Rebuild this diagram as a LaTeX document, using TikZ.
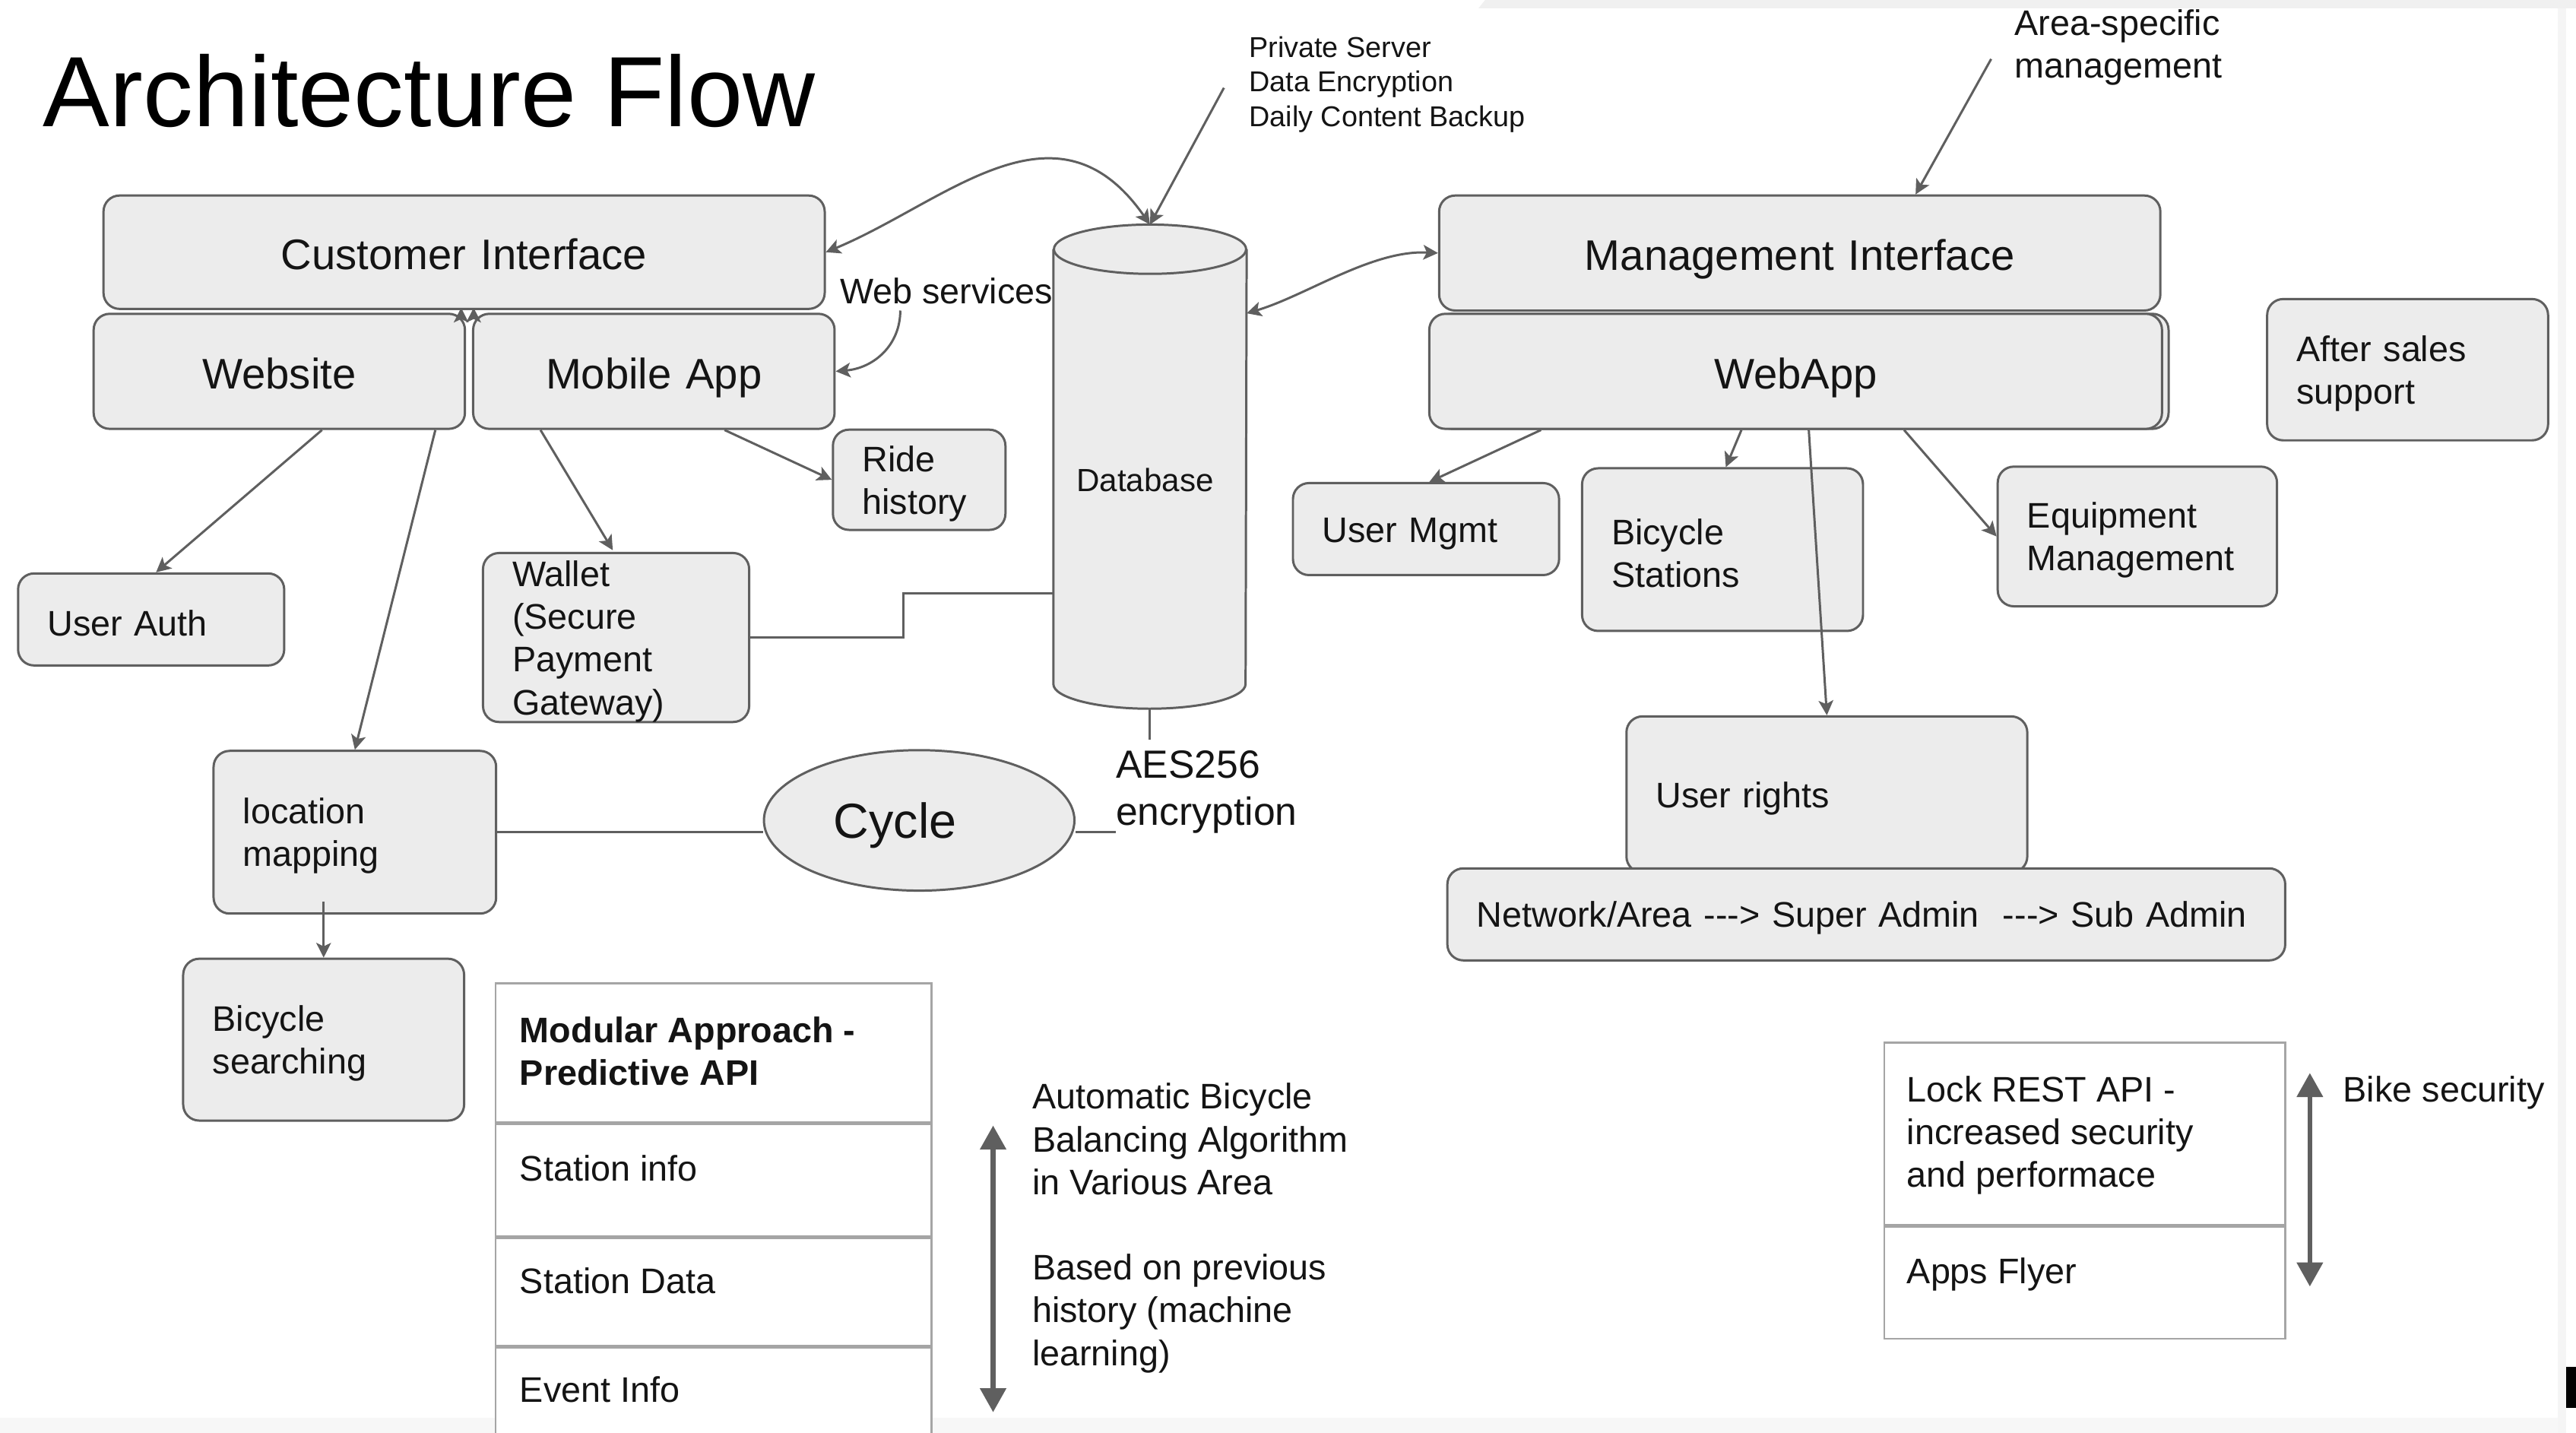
\documentclass[tikz,border=0pt]{standalone}
\usepackage{fontspec}
\setmainfont{Liberation Sans}
\usetikzlibrary{arrows.meta,shapes.geometric}
\definecolor{boxc}{RGB}{236,236,236}
\definecolor{linec}{RGB}{95,95,95}
\definecolor{txtc}{RGB}{20,20,20}
\definecolor{tabc}{RGB}{165,165,165}
\newcommand{\hy}{\mbox{-}}

\begin{document}
\begin{tikzpicture}[x=0.615pt, y=-0.615pt,
	box/.style 2 args={draw=linec, fill=boxc, line width=0.85pt, rounded corners=6pt, text=txtc,
		minimum width=#1*0.615pt, minimum height=#2*0.615pt, text width=#1*0.615pt-22pt, text height=12.5pt,
		inner xsep=11pt, inner ysep=0pt, align=left, font=\fontsize{13.3}{16}\selectfont},
	big/.style={align=center, text height=13pt, text depth=0pt, font=\fontsize{16}{19}\selectfont},
	cell/.style 2 args={draw=tabc, fill=white, line width=0.7pt, anchor=north, inner sep=0pt,
		minimum width=#1*0.615pt, minimum height=#2*0.615pt},
	txt/.style={inner sep=0pt, align=left, text=txtc, font=\fontsize{13.3}{16}\selectfont},
	gtip/.tip={Stealth[length=5.5pt, width=5.5pt, inset=1.3pt]},
	arr/.style={draw=linec, line width=0.85pt, arrows={-gtip}},
	arr2/.style={draw=linec, line width=0.85pt, arrows={gtip-gtip}},
	con/.style={draw=linec, line width=0.85pt},
	dbl/.style={draw=linec, line width=1.8pt, arrows={Triangle[length=9pt, width=9.5pt]-Triangle[length=9pt, width=9.5pt]}}]
	\useasboundingbox (0,0) rectangle (1568,872);
	\fill[white] (0,0) rectangle (1568,872);
	\fill[black!6] (900,5) -- (904,0) -- (1568,0) -- (1568,5) -- cycle;
	\fill[black!4] (1557,5) rectangle (1562,872);
	\fill[black!3] (0,863) rectangle (1557,872);
	\fill[black] (1562,832) rectangle (1568,857);

	\node[anchor=base west, inner sep=0pt, text=black, font=\fontsize{37.4}{45}\selectfont] (title) at (26,77) {Architecture Flow};

	\node[box={439}{69}, big] (ci) at (282.5,153.5) {Customer Interface};
	\node[box={226}{70}, big] (web) at (170,226) {Website};
	\node[box={220}{70}, big] (mob) at (398,226) {Mobile App};
	\node[box={439}{70}, big] (mi) at (1095.5,154) {Management Interface};
	\node[box={446}{70}] (wapp2) at (1097,226) {};
	\node[box={446}{70}, big] (wapp) at (1093,226) {WebApp};
	\node[box={171}{86}] (after) at (1465.5,225) {After sales\\support};
	\node[box={162}{56}] (umgmt) at (868,322) {User Mgmt};
	\node[box={171}{99}] (bstat) at (1048.5,334.5) {Bicycle\\Stations};
	\node[box={170}{85}] (equip) at (1301,326.5) {Equipment\\Management};
	\node[box={244}{95}] (urights) at (1112,483.5) {User rights};
	\node[box={510}{56}] (net) at (1136,556.5) {Network/Area \hy\hy\hy> Super Admin \ \hy\hy\hy> Sub Admin};
	\node[box={105}{61}] (ride) at (559.5,292) {Ride\\history};
	\node[box={162}{98}] (wallet) at (375,388) {Wallet\\(Secure\\Payment\\Gateway)};
	\node[box={162}{56}] (uauth) at (92,377) {User Auth};
	\node[box={172}{99}] (locmap) at (216,506.5) {location\\mapping};
	\node[box={171}{98.5}] (bsearch) at (197,632.75) {Bicycle\\searching};
	\node[ellipse, draw=linec, fill=boxc, line width=0.85pt, inner sep=0pt, text=txtc, text depth=0pt,
		minimum width=189*0.615pt, minimum height=85.5*0.615pt, font=\fontsize{18.4}{22}\selectfont] (cycle) at (559.5,499.3) {Cycle\kern18pt};

	\node[minimum width=117*0.615pt, minimum height=294*0.615pt, inner sep=0pt] (db) at (700,284) {};
	\draw[con, fill=boxc] ([shift={(0,15)}]db.north west) -- ([shift={(0,-15)}]db.south west)
		arc[start angle=180, end angle=0, x radius=58.5, y radius=15] -- ([shift={(0,15)}]db.north east);
	\draw[con, fill=boxc] ([shift={(0,15)}]db.north) ellipse[x radius=58.5, y radius=15];
	\node[txt, font=\fontsize{12}{14}\selectfont] (dbtext) at (697,292) {Database};

	\node[cell={265.3}{84.3}] (m1) at (434.35,598) {};
	\node[cell={265.3}{68.3}] (m2) at (m1.south) {};
	\node[cell={265.3}{65.4}] (m3) at (m2.south) {};
	\node[cell={265.3}{64}] (m4) at (m3.south) {};
	\node[txt, anchor=north west, font=\fontsize{13.3}{16}\selectfont\bfseries] (m1t) at ([shift={(15,20.5)}]m1.north west) {Modular Approach -\\Predictive API};
	\node[txt, anchor=north west] (m2t) at ([shift={(15,19.5)}]m2.north west) {Station info};
	\node[txt, anchor=north west] (m3t) at ([shift={(15,18.5)}]m3.north west) {Station Data};
	\node[txt, anchor=north west] (m4t) at ([shift={(15,18)}]m4.north west) {Event Info};
	\node[cell={244}{111}] (l1) at (1269,634) {};
	\node[cell={244}{68}] (l2) at (l1.south) {};
	\node[txt, anchor=north west] (l1t) at ([shift={(14,20.5)}]l1.north west) {Lock REST API -\\increased security\\and performace};
	\node[txt, anchor=north west] (l2t) at ([shift={(14,19)}]l2.north west) {Apps Flyer};

	\node[txt, anchor=north west, font=\fontsize{10.75}{12.9}\selectfont] (priv) at (760,22) {Private Server\\Data Encryption\\Daily Content Backup};
	\node[txt, anchor=north west] (area) at (1226,5.5) {Area-specific\\management};
	\node[txt, anchor=base west] (websvc) at (511,185) {Web services};
	\node[txt, anchor=north west, font=\fontsize{14.7}{17.8}\selectfont] (aes) at (679,456.5) {AES256\\encryption};
	\node[txt, anchor=north west] (auto) at (628,659) {Automatic Bicycle\\Balancing Algorithm\\in Various Area};
	\node[txt, anchor=north west] (based) at (628,763) {Based on previous\\history (machine\\learning)};
	\node[txt, anchor=base west] (bike) at (1426,670.5) {Bike security};

	\draw[arr] ([shift={(-15,2)}]priv.west) -- (db.north);
	\draw[arr2] (ci.east) .. controls (576,123) and (643,55) .. (db.north);
	\draw[arr] ([shift={(37,4)}]websvc.base west) .. controls (548,210) and (532,224) .. (mob.east);
	\draw[arr2] ([shift={(0,54)}]db.north east) .. controls (795,180) and (835,152) .. (mi.west);
	\draw[arr] ([shift={(-14,7)}]area.west) -- ([shift={(70.5,0)}]mi.north);
	\draw[arr] ([shift={(-3,0)}]web.north east) -- ++(0,-3);
	\draw[arr] ([shift={(1,0)}]mob.north west) -- ++(0,-3);
	\draw[arr] ([shift={(26,0)}]web.south) -- ([shift={(3,0)}]uauth.north);
	\draw[arr] ([shift={(95,0)}]web.south) -- (locmap.north);
	\draw[arr] ([shift={(-69,0)}]mob.south) -- ([shift={(-2,-1)}]wallet.north);
	\draw[arr] ([shift={(43,0)}]mob.south) -- (ride.west);
	\draw[con] (wallet.east) -- ++(93,0) |- ([shift={(0,77)}]db.west);
	\draw[con] (db.south) -- ++(0,19);
	\draw[con] (locmap.east) -- (locmap.east -| cycle.west);
	\draw[con] (locmap.east -| cycle.east) -- (locmap.east -| aes.west);
	\draw[arr] ([shift={(-19,-8)}]locmap.south) -- (bsearch.north);
	\draw[arr] ([shift={(-155,0)}]wapp.south) -- ([shift={(2,0)}]umgmt.north);
	\draw[arr] ([shift={(-33,0)}]wapp.south) -- ([shift={(2,0)}]bstat.north);
	\draw[arr] ([shift={(8,0)}]wapp.south) -- (urights.north);
	\draw[arr] ([shift={(66,0)}]wapp.south) -- (equip.west);

	\coordinate (balT) at (604.5,685);
	\coordinate (balB) at (604.5,859.5);
	\draw[dbl] (balT) -- (balB);
	\coordinate (secT) at (1406,653);
	\coordinate (secB) at (1406,783);
	\draw[dbl] (secT) -- (secB);
\end{tikzpicture}
\end{document}
